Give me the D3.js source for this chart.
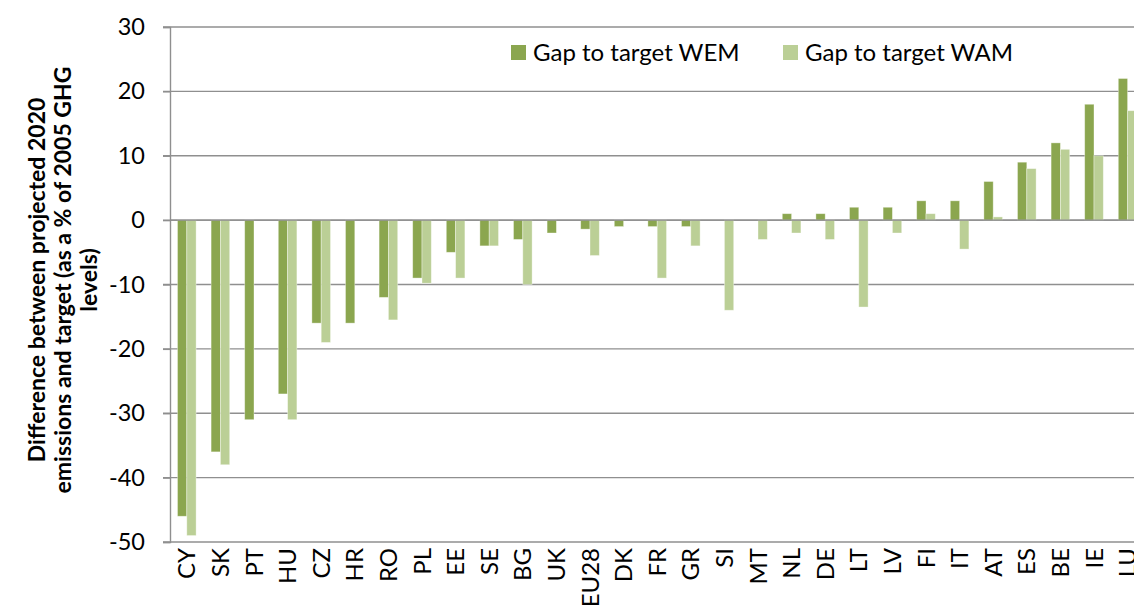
<!DOCTYPE html>
<html><head><meta charset="utf-8">
<script src="https://cdn.jsdelivr.net/npm/d3@7"></script>
<style>html,body{margin:0;padding:0;background:#fff;overflow:hidden}svg{display:block}</style>
</head><body>
<svg id="chart" width="1134" height="610"></svg>
<script>
const categories = ["CY","SK","PT","HU","CZ","HR","RO","PL","EE","SE","BG","UK","EU28","DK","FR","GR","SI","MT","NL","DE","LT","LV","FI","IT","AT","ES","BE","IE","LU"];
const wem = [-46,-36,-31,-27,-16,-16,-12,-9,-5,-4,-3,-2,-1.4,-1,-1,-1,null,null,1,1,2,2,3,3,6,9,12,18,22];
const wam = [-49,-38,null,-31,-19,null,-15.5,-9.8,-9,-4,-10,null,-5.5,null,-9,-4,-14,-3,-2,-3,-13.5,-2,1,-4.5,0.5,8,11,10,17];
const seriesNames = ["Gap to target WEM","Gap to target WAM"];
const seriesColors = ["#8ba64f","#bbcf96"];
const yTicks = [30,20,10,0,-10,-20,-30,-40,-50];
const yTitle = ["Difference between projected 2020","emissions and target (as a % of 2005 GHG","levels)"];

const font = "Lato, 'Open Sans', sans-serif";
const svg = d3.select("#chart");
const pLeft = 170, pTop = 27, pBottom = 542, pRight = 170 + 29*33.6;

const x = d3.scaleBand().domain(categories).range([pLeft, pRight]).paddingInner(0.446).paddingOuter(0.223);
const x1 = d3.scaleBand().domain([0,1]).range([0, x.bandwidth()]);
const y = d3.scaleLinear().domain([-50,30]).range([pBottom, pTop]);

// gridlines
svg.append("g").selectAll("line").data(yTicks).join("line")
  .attr("x1", pLeft-7).attr("x2", pRight)
  .attr("y1", d=>y(d)).attr("y2", d=>y(d))
  .attr("stroke", "#8f8f8f").attr("stroke-width", 1.4);

// y axis
const yAxis = svg.append("g").attr("transform", `translate(${pLeft},0)`)
  .call(d3.axisLeft(y).tickValues(yTicks).tickSize(7).tickPadding(18).tickFormat(d=>String(d)));
yAxis.select(".domain").attr("stroke", "#8f8f8f").attr("stroke-width", 1.4);
yAxis.selectAll(".tick line").attr("stroke", "#8f8f8f").attr("stroke-width", 1.4);
yAxis.selectAll("text").attr("font-family", font).attr("font-size", 23.5).attr("fill", "#000");

// bars
const data = categories.map((c,i)=>({c, v:[wem[i], wam[i]]}));
const groups = svg.append("g").selectAll("g").data(data).join("g")
  .attr("transform", d=>`translate(${x(d.c)},0)`);
groups.selectAll("rect").data(d=>d.v.map((v,k)=>({v,k})).filter(e=>e.v!==null)).join("rect")
  .attr("x", e=>x1(e.k)).attr("width", x1.bandwidth())
  .attr("y", e=>y(Math.max(0,e.v))).attr("height", e=>Math.abs(y(e.v)-y(0)))
  .attr("fill", e=>seriesColors[e.k])
  .attr("stroke", "rgba(255,255,255,0.45)").attr("stroke-width", 0.8);

// zero line on top
svg.append("line").attr("x1", pLeft).attr("x2", pRight).attr("y1", y(0)).attr("y2", y(0))
  .attr("stroke", "#8a8a8a").attr("stroke-width", 1.4);

// x labels
svg.append("g").selectAll("text").data(categories).join("text")
  .attr("transform", d=>`translate(${x(d)+x.bandwidth()/2},${pBottom+6}) rotate(-90)`)
  .attr("text-anchor", "end").attr("dy", "0.36em")
  .attr("font-family", font).attr("font-size", 24).attr("fill", "#000")
  .text(d=>d);

// y title
const tt = svg.append("text").attr("transform", `translate(0,280) rotate(-90)`)
  .attr("text-anchor", "middle").attr("font-family", font).attr("font-weight", "bold")
  .attr("font-size", 23).attr("fill", "#000");
yTitle.forEach((t,i)=>tt.append("tspan").attr("x", 0).attr("y", 45 + i*26).text(t));

// legend
const legX = [511, 783];
const leg = svg.append("g").selectAll("g").data(seriesNames).join("g")
  .attr("transform", (d,i)=>`translate(${legX[i]},45)`);
leg.append("rect").attr("width", 15).attr("height", 15).attr("fill", (d,i)=>seriesColors[i]);
leg.append("text").attr("x", 22).attr("y", 16).attr("font-family", font).attr("font-size", 24)
  .attr("fill", "#000").text(d=>d);
</script>
</body></html>
